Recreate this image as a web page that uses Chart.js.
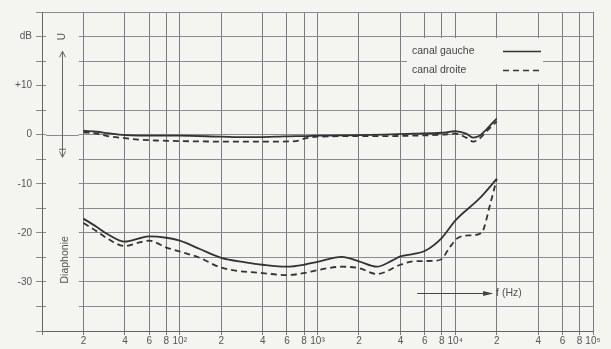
<!DOCTYPE html>
<html>
<head>
<meta charset="utf-8">
<script src="https://cdn.jsdelivr.net/npm/chart.js@4/dist/chart.umd.min.js"></script>
<style>
  html, body { margin: 0; padding: 0; background: #f4f4f0; }
  #wrap { width: 611px; height: 349px; }
</style>
</head>
<body>
<div id="wrap"><canvas id="chartDiaphonie"></canvas></div>
<script>
// courbes de réponse (niveau) et de diaphonie, en dB
const freqNiveau = [20, 25, 30, 40, 50, 70, 100, 200, 300, 500, 700, 800, 1000, 2000, 3000, 5000, 8000, 10000, 12000, 13500, 15000, 17000, 20000];
const gaucheNiveau = [0.8, 0.6, 0.3, -0.1, -0.2, -0.2, -0.2, -0.4, -0.5, -0.4, -0.3, -0.3, -0.2, -0.1, 0, 0.2, 0.4, 0.7, 0.2, -0.6, -0.2, 1.2, 3.3];
const droiteNiveau = [0.5, 0.2, -0.3, -0.7, -1.0, -1.2, -1.3, -1.4, -1.4, -1.4, -1.3, -0.8, -0.4, -0.3, -0.3, -0.2, 0.0, 0.2, -0.6, -1.4, -0.8, 0.8, 2.7];

const freqDiaphonieG = [20, 25, 30, 40, 50, 60, 80, 100, 140, 200, 300, 400, 600, 800, 1000, 1500, 2000, 2700, 3500, 4000, 5000, 6000, 8000, 10000, 15000, 20000];
const gaucheDiaphonie = [-17.1, -18.8, -20.3, -21.8, -21.2, -20.7, -21.0, -21.6, -23.3, -25.1, -26.0, -26.5, -26.9, -26.5, -25.9, -24.9, -25.8, -26.9, -25.6, -24.8, -24.3, -23.7, -21.0, -17.5, -13.0, -9.0];

const freqDiaphonieD = [20, 25, 30, 40, 50, 60, 80, 100, 140, 200, 400, 600, 800, 1000, 1500, 2000, 2700, 4000, 5000, 7000, 8000, 9000, 10500, 13000, 15500, 18000, 20000];
const droiteDiaphonie = [-18.0, -19.7, -21.2, -22.7, -22.0, -21.6, -23.0, -23.8, -25.1, -27.1, -28.2, -28.6, -28.2, -27.6, -26.9, -27.2, -28.4, -26.5, -25.8, -25.7, -25.3, -23.2, -21.0, -20.5, -20.0, -14.0, -9.0];

const xTicks = [10, 20, 40, 60, 80, 100, 200, 400, 600, 800, 1000, 2000, 4000, 6000, 8000, 10000, 20000, 40000, 60000, 80000, 100000];
const yLabels = { 20: "dB", 10: "+10", 0: "0", "-10": "-10", "-20": "-20", "-30": "-30" };

const BG = "#f4f4f0";
const INK = "#333";
const FONT = "'Liberation Sans', Arial, sans-serif";
const SUP = { 1: "\u00b9", 2: "\u00b2", 3: "\u00b3", 4: "\u2074", 5: "\u2075" };

const pts = (xs, ys) => xs.map((f, i) => ({ x: f, y: ys[i] }));

// efface la grille à gauche, devant les annotations
const gapPlugin = {
  id: "gap",
  beforeDatasetsDraw(chart) {
    const { ctx, chartArea: a, scales: { x, y } } = chart;
    const x0 = a.left + 4, x1 = x.getPixelForValue(18.5);
    ctx.save();
    ctx.fillStyle = BG;
    ctx.fillRect(x0, a.top + 1, x1 - x0, a.bottom - a.top - 2);
    ctx.strokeStyle = "#8a8a92";
    ctx.lineWidth = 1;
    const y0 = Math.round(y.getPixelForValue(0)) + 0.5;
    ctx.beginPath(); ctx.moveTo(x0, y0); ctx.lineTo(x1, y0); ctx.stroke();
    ctx.restore();
  }
};

const annotPlugin = {
  id: "annot",
  afterDatasetsDraw(chart) {
    const { ctx, chartArea: a, scales: { x, y } } = chart;
    ctx.save();
    ctx.fillStyle = "#555";
    ctx.strokeStyle = "#666";
    ctx.lineWidth = 1;

    // U et flèche verticale
    const ux = a.left + 20;
    ctx.font = "10px " + FONT;
    ctx.textAlign = "center";
    ctx.textBaseline = "middle";
    ctx.save();
    ctx.translate(ux, y.getPixelForValue(20));
    ctx.rotate(-Math.PI / 2);
    ctx.fillText("U", 0, 0);
    ctx.restore();
    const yt = y.getPixelForValue(17), yb = y.getPixelForValue(-4.6);
    ctx.beginPath();
    ctx.moveTo(ux + 0.5, yt); ctx.lineTo(ux + 0.5, yb);
    ctx.moveTo(ux - 2.5, yt + 6); ctx.lineTo(ux + 0.5, yt); ctx.lineTo(ux + 3.5, yt + 6);
    ctx.moveTo(ux - 2.5, yb - 6); ctx.lineTo(ux + 0.5, yb); ctx.lineTo(ux + 3.5, yb - 6);
    ctx.moveTo(ux - 3, yb - 8); ctx.lineTo(ux + 4, yb - 8);
    ctx.stroke();

    // Diaphonie
    ctx.save();
    ctx.translate(ux + 3, y.getPixelForValue(-25.5));
    ctx.rotate(-Math.PI / 2);
    ctx.font = "10.5px " + FONT;
    ctx.fillText("Diaphonie", 0, 0);
    ctx.restore();

    // f (Hz)
    const fy = Math.round(y.getPixelForValue(-32.3)) + 0.5;
    const fx0 = x.getPixelForValue(5300), fx1 = x.getPixelForValue(18500);
    ctx.strokeStyle = "#444";
    ctx.beginPath(); ctx.moveTo(fx0, fy); ctx.lineTo(fx1, fy); ctx.stroke();
    ctx.beginPath();
    ctx.moveTo(fx1 + 1, fy); ctx.lineTo(fx1 - 9, fy - 2.5); ctx.lineTo(fx1 - 9, fy + 2.5);
    ctx.closePath(); ctx.fillStyle = "#444"; ctx.fill();
    ctx.fillStyle = "#555";
    ctx.textAlign = "left";
    ctx.font = "10.5px " + FONT;
    ctx.fillText("f (Hz)", fx1 + 4, fy);

    // légende
    const lx = a.right - 186, ly = a.top + 26;
    ctx.fillStyle = BG;
    ctx.fillRect(lx, ly, 136, 46);
    const seen = [];
    chart.data.datasets.forEach(ds => {
      if (seen.includes(ds.label)) return;
      seen.push(ds.label);
      const ty = ly + 13 + (seen.length - 1) * 19;
      ctx.fillStyle = "#444";
      ctx.font = "10.5px " + FONT;
      ctx.fillText(ds.label, lx + 5, ty);
      ctx.strokeStyle = ds.borderColor;
      ctx.lineWidth = 1.5;
      ctx.setLineDash(ds.borderDash || []);
      ctx.beginPath(); ctx.moveTo(lx + 96, ty + 0.5); ctx.lineTo(lx + 134, ty + 0.5); ctx.stroke();
      ctx.setLineDash([]);
    });
    ctx.restore();
  }
};

const solid = { borderColor: INK, borderWidth: 1.8, pointRadius: 0, fill: false, cubicInterpolationMode: "monotone" };
const dashed = { ...solid, borderDash: [6, 4] };

new Chart(document.getElementById("chartDiaphonie"), {
  type: "line",
  data: {
    datasets: [
      { label: "canal gauche", data: pts(freqNiveau, gaucheNiveau), ...solid },
      { label: "canal droite", data: pts(freqNiveau, droiteNiveau), ...dashed },
      { label: "canal gauche", data: pts(freqDiaphonieG, gaucheDiaphonie), ...solid },
      { label: "canal droite", data: pts(freqDiaphonieD, droiteDiaphonie), ...dashed }
    ]
  },
  options: {
    responsive: true,
    maintainAspectRatio: false,
    animation: false,
    layout: { padding: { left: 0, top: 12, right: 18, bottom: 0 } },
    plugins: { legend: { display: false }, tooltip: { enabled: false } },
    scales: {
      x: {
        type: "logarithmic",
        min: 10,
        max: 100000,
        afterBuildTicks: s => { s.ticks = xTicks.map(v => ({ value: v })); },
        afterFit: s => { s.height = 18; },
        ticks: {
          autoSkip: false,
          maxRotation: 0,
          padding: 0,
          color: "#555",
          font: { family: FONT, size: 10 },
          callback: v => {
            if (v === 10) return "";
            const e = Math.floor(Math.log10(v) + 1e-9);
            const m = Math.round(v / Math.pow(10, e));
            return m === 1 ? "10" + SUP[e] : String(m);
          }
        },
        grid: { color: "#7c7c80", lineWidth: 1, tickLength: 4 },
        border: { color: "#666" }
      },
      y: {
        min: -40,
        max: 25,
        afterFit: s => { s.width = 42; },
        ticks: {
          stepSize: 5,
          padding: 4,
          color: "#555",
          font: { family: FONT, size: 10 },
          callback: v => yLabels[v] !== undefined ? yLabels[v] : ""
        },
        grid: { color: "#8a8a92", lineWidth: 1, tickLength: 6 },
        border: { color: "#666" }
      }
    }
  },
  plugins: [gapPlugin, annotPlugin]
});
</script>
</body>
</html>
